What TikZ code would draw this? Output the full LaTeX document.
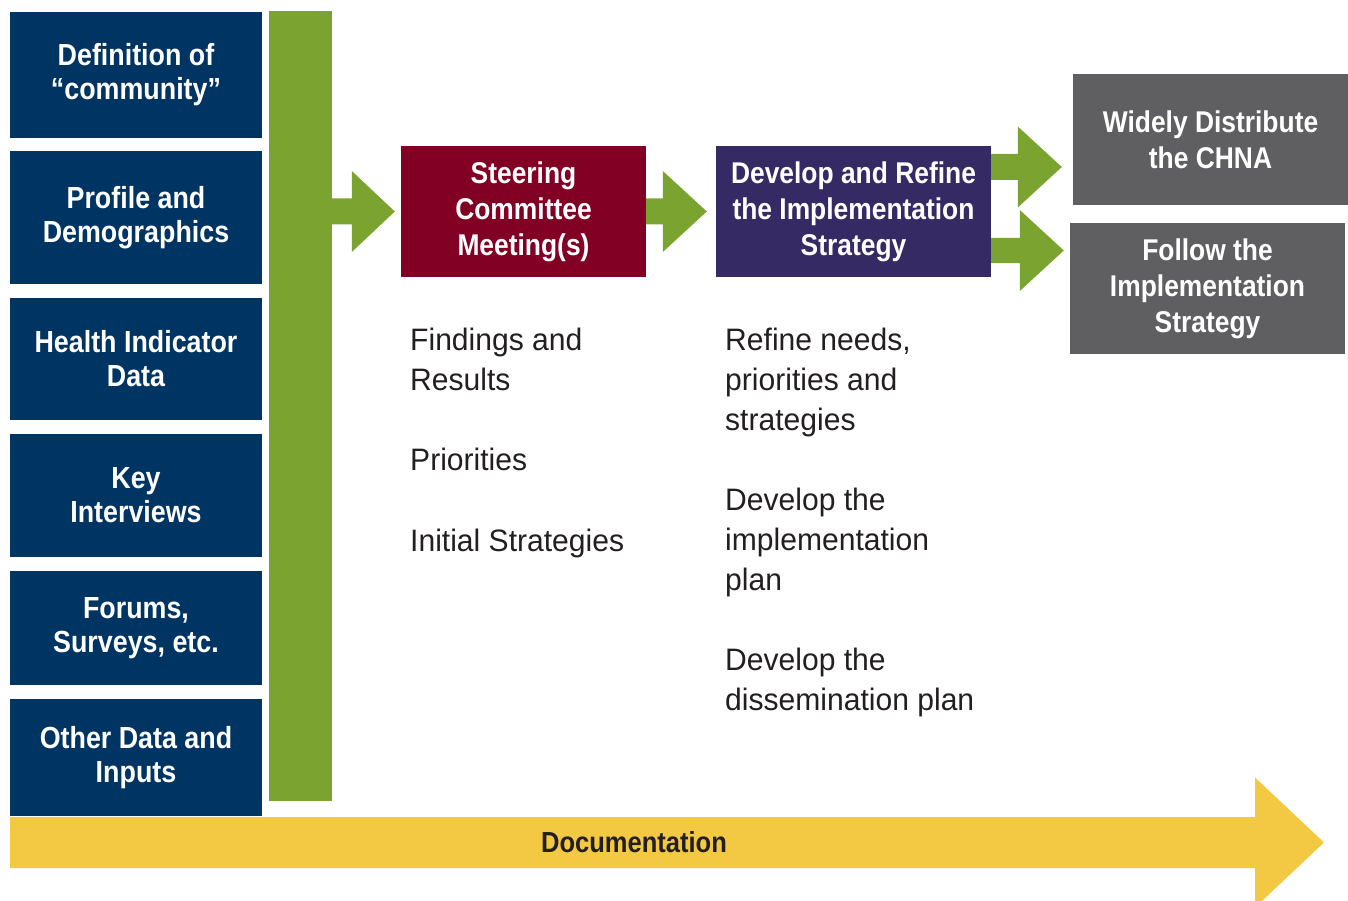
\documentclass[tikz,border=0pt]{standalone}
\usepackage{fontspec}
\setmainfont{Liberation Sans}[FakeStretch=0.97, BoldFeatures={FakeStretch=0.88}]
\usepackage{tikz}
\usetikzlibrary{calc, positioning}

\definecolor{inBlue}{HTML}{003462}
\definecolor{barGreen}{HTML}{7BA330}
\definecolor{steerRed}{HTML}{820024}
\definecolor{devPurple}{HTML}{352A63}
\definecolor{outGray}{HTML}{5F5F61}
\definecolor{docYellow}{HTML}{F3C943}
\definecolor{bodyText}{HTML}{231F20}

% block arrow: [style]{start}{tip}{shaft half}{head half}{head length}
\newcommand{\fatArrow}[6][]{%
	\fill[#1] let \p1=(#2), \p2=(#3) in
		(\x1,\y1-#4) -- (\x2-#6,\y1-#4) -- (\x2-#6,\y1-#5) -- (\x2,\y1)
		-- (\x2-#6,\y1+#5) -- (\x2-#6,\y1+#4) -- (\x1,\y1+#4) -- cycle;}

\tikzset{
	inbox/.style={fill=inBlue, text=white, align=center, inner sep=0pt, minimum width=252pt,
		font=\bfseries\fontsize{30.5}{34}\selectfont},
	stepbox/.style={text=white, align=center, inner sep=0pt, minimum height=131pt,
		font=\bfseries\fontsize{30}{36}\selectfont},
	bodytext/.style={text=bodyText, align=left, anchor=north west, inner sep=0pt,
		font=\fontsize{31}{40}\selectfont},
}

\begin{document}
\begin{tikzpicture}[x=1pt, y=-1pt]
	\useasboundingbox (0,0) rectangle (1348,901);
	\def\X{136}
	
	% inputs
	\node[inbox, minimum height=126pt] (def)   at (\X,75)    {Definition of\\“community”};
	\node[inbox, minimum height=133pt] (prof)  at (\X,217.5) {Profile and\\Demographics};
	\node[inbox, minimum height=122pt] (hid)   at (\X,359)   {Health Indicator\\Data};
	\node[inbox, minimum height=123pt] (key)   at (\X,495.5) {Key\\Interviews};
	\node[inbox, minimum height=114pt] (forum) at (\X,628)   {Forums,\\Surveys, etc.};
	\node[inbox, minimum height=117pt] (other) at (\X,757.5) {Other Data and\\Inputs};
	
	\node[fill=barGreen, inner sep=0pt, minimum width=63pt, minimum height=790pt] (bar) at (300.5,406) {};
	
	% steps
	\node[stepbox, fill=steerRed, minimum width=245pt] (steer) at (523.5,211.5) {Steering\\Committee\\Meeting(s)};
	\node[stepbox, fill=devPurple, minimum width=275pt] (develop) at (853.5,211.5) {Develop and Refine\\the Implementation\\Strategy};
	\node[stepbox, fill=outGray, minimum width=275pt] (widely) at (1210.5,139.5) {Widely Distribute\\the CHNA};
	\node[stepbox, fill=outGray, minimum width=275pt] (follow) at (1207.5,288.5) {Follow the\\Implementation\\Strategy};
	
	\fatArrow[barGreen]{bar.east |- steer.west}{$(steer.west)+(-6,0)$}{13pt}{40.5pt}{43pt}
	\fatArrow[barGreen]{steer.east}{$(develop.west)+(-9,0)$}{13pt}{40.5pt}{44pt}
	\fatArrow[barGreen]{$(develop.east)+(0,-44.5)$}{$(widely.west)+(-11,0)$}{13pt}{40.5pt}{44pt}
	\fatArrow[barGreen]{$(develop.east)+(0,39)$}{$(follow.west)+(-6,0)$}{12.5pt}{40.5pt}{44pt}
	
	% notes
	\node[bodytext] (findings) at (410,328) {Findings and\\Results};
	\node[bodytext] (prio)     at (410,448) {Priorities};
	\node[bodytext] (initial)  at (410,529) {Initial Strategies};
	\node[bodytext] (refine)   at (725,328) {Refine needs,\\priorities and\\strategies};
	\node[bodytext] (implan)   at (725,488) {Develop the\\implementation\\plan};
	\node[bodytext] (dissem)   at (725,648) {Develop the\\dissemination plan};
	
	% documentation
	\coordinate (docstart) at (10,842.5);
	\coordinate (docend) at (1324,842.5);
	\fatArrow[docYellow]{docstart}{docend}{25.5pt}{65pt}{69pt}
	\node[text=bodyText, font=\bfseries\fontsize{29}{34}\selectfont] (doc) at (634,842) {Documentation};
\end{tikzpicture}
\end{document}
